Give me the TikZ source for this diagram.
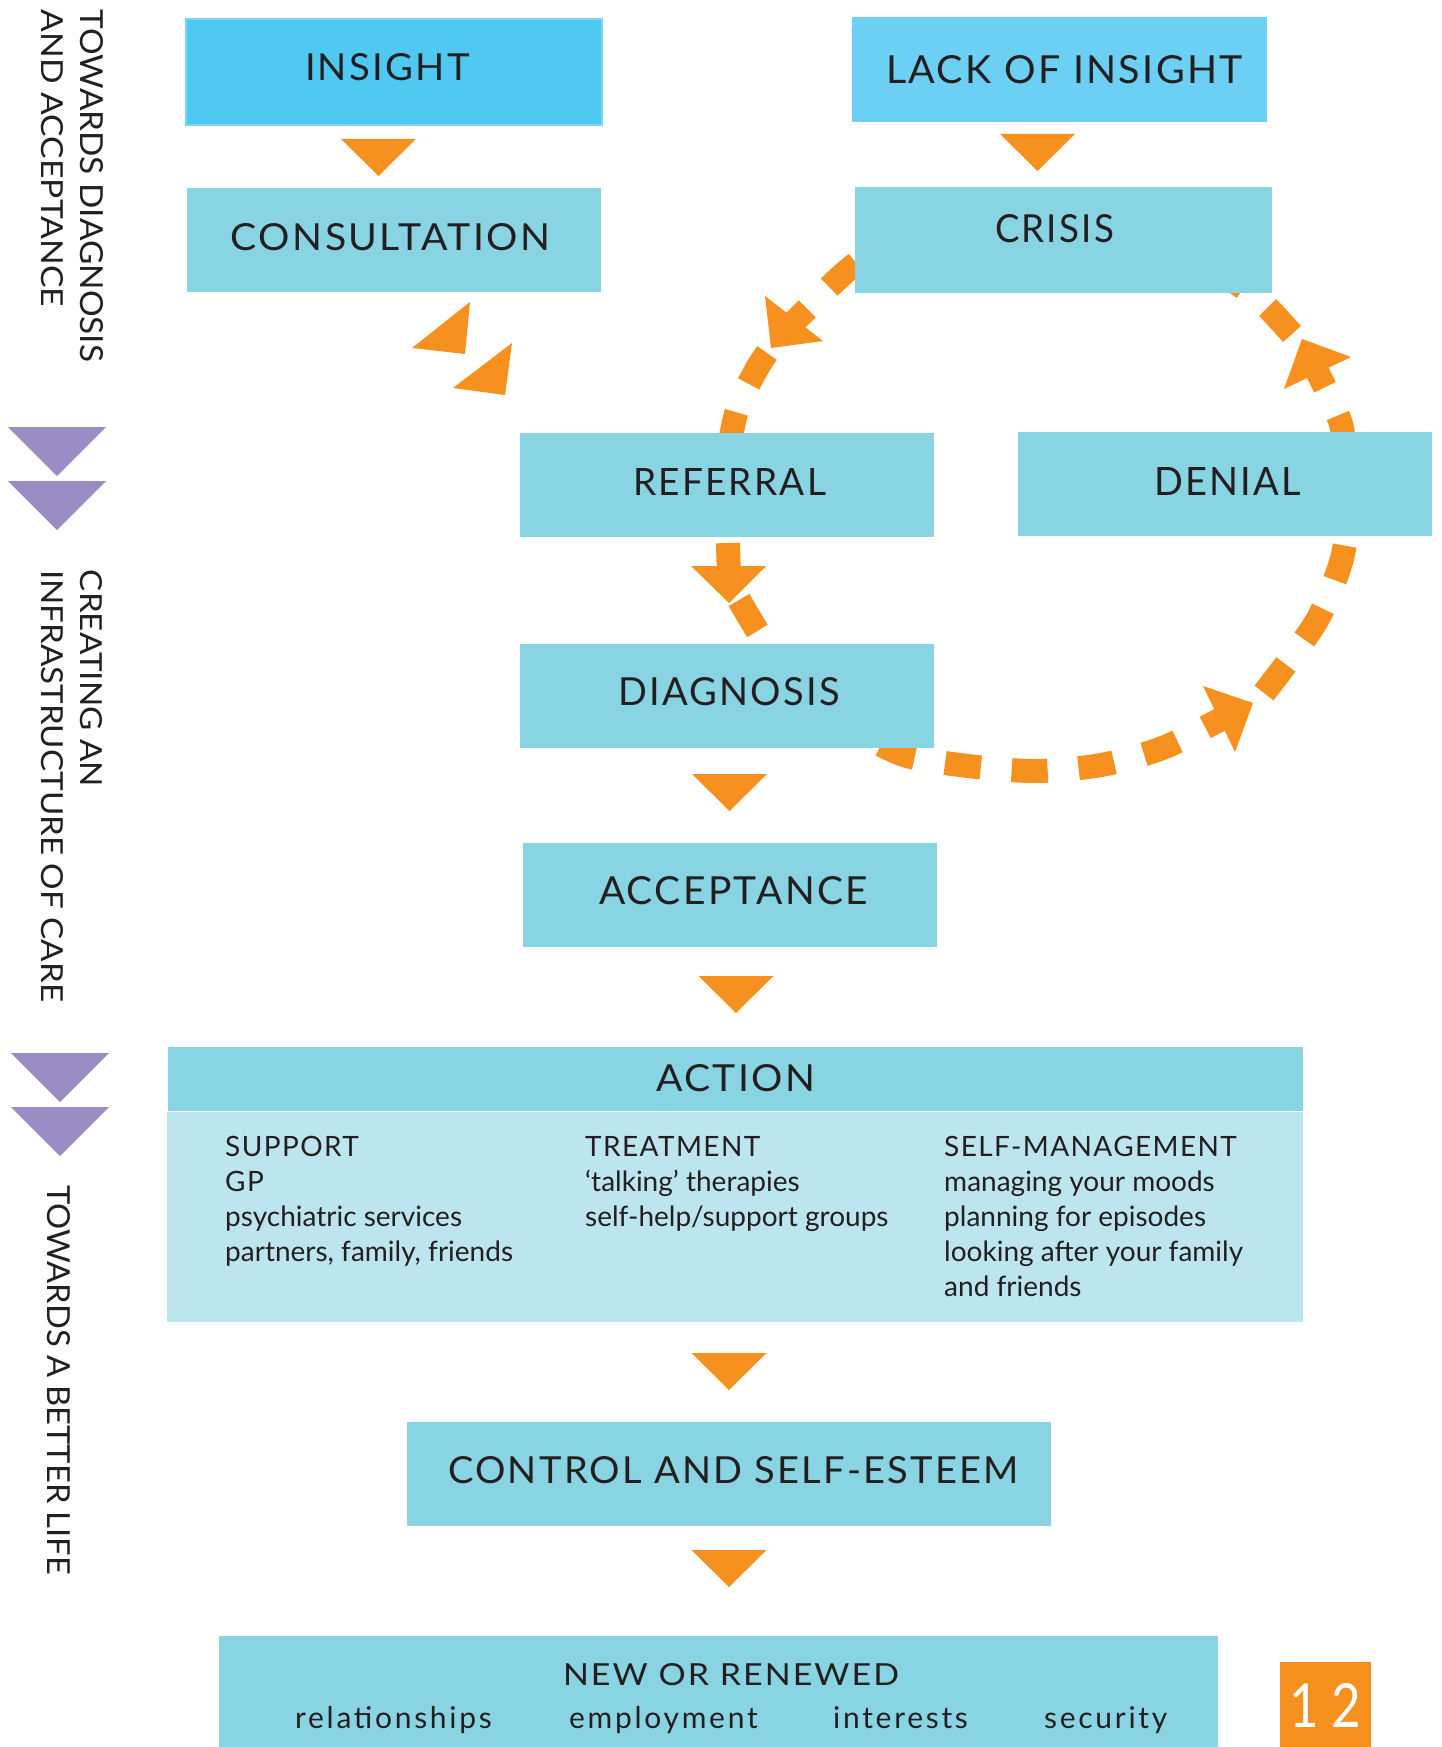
\documentclass[tikz,border=0pt]{standalone}
\usepackage{fontspec}
\usepackage{graphicx}
\setmainfont{Lato}
\newfontfamily\ttlfont[LetterSpace=6]{Lato}
\newfontfamily\capfont[LetterSpace=5]{Lato}
\newfontfamily\wordfont[LetterSpace=9]{Lato}
\usetikzlibrary{backgrounds,calc}
\definecolor{boxc}{HTML}{89D4E3}
\definecolor{insc}{HTML}{4FC9F1}
\definecolor{insedge}{HTML}{80D5EE}
\definecolor{lackc}{HTML}{6CCFF4}
\definecolor{bodybg}{HTML}{BDE5EF}
\definecolor{orng}{HTML}{F6901E}
\definecolor{purp}{HTML}{9B8DC4}
\definecolor{ink}{HTML}{231F20}
\newcommand{\ttlbox}[3]{\resizebox{#1pt}{#2pt}{\ttlfont\fontsize{38}{44}\selectfont #3}}
\newcommand{\sidebox}[3]{\resizebox{#1pt}{#2pt}{\fontsize{34}{40}\selectfont #3}}
\begin{document}
\begin{tikzpicture}[x=1pt,y=-1pt,
  box/.style={rectangle, fill=boxc, draw=none, inner sep=0pt},
  ttl/.style={inner sep=0pt, text=ink},
  bodytxt/.style={inner sep=0pt, text=ink, align=left, font=\fontsize{28}{35}\selectfont},
  wordtxt/.style={inner sep=0pt, text=ink, font=\wordfont\fontsize{30}{36}\selectfont},
  loopline/.style={draw=orng, line width=24pt, dash pattern=on 36pt off 31pt},
  downtri/.pic={\fill[orng] (-37.5,0) -- (37.5,0) -- (0,37) -- cycle;},
  purptri/.pic={\fill[purp] (-49,0) -- (49,0) -- (0,49) -- cycle;}]
\useasboundingbox (0,0) rectangle (1442,1747);

% boxes
\node[box, minimum width=416pt, minimum height=106pt, fill=insc, draw=insedge, line width=2pt] (insight) at (394,72) {};
\node[box, minimum width=415pt, minimum height=105pt, fill=lackc] (lack) at (1059.5,69.5) {};
\node[box, minimum width=414pt, minimum height=104pt] (consult) at (394,240) {};
\node[box, minimum width=417pt, minimum height=106pt] (crisis) at (1063.5,240) {};
\node[box, minimum width=414pt, minimum height=104pt] (referral) at (727,485) {};
\node[box, minimum width=414pt, minimum height=104pt] (denial) at (1225,484) {};
\node[box, minimum width=414pt, minimum height=104pt] (diagnosis) at (727,696) {};
\node[box, minimum width=414pt, minimum height=104pt] (accept) at (730,895) {};
\node[box, minimum width=1135pt, minimum height=64pt] (actionhead) at (735.5,1079) {};
\node[box, minimum width=1136pt, minimum height=210pt, fill=bodybg] (actionbody) at (735,1217) {};
\node[box, minimum width=644pt, minimum height=104pt] (control) at (729,1474) {};
\node[box, minimum width=999pt, minimum height=111pt] (renewed) at (718.5,1691.5) {};
\node[box, minimum width=91pt, minimum height=85pt, fill=orng] (page) at (1325.5,1704.5) {};

% titles
\node[ttl] (insightT) at (387.5,67.5) {\ttlbox{165}{27}{INSIGHT}};
\node[ttl] (lackT) at (1064.5,70) {\ttlbox{357}{28}{LACK OF INSIGHT}};
\node[ttl] (consultT) at (390.5,237.5) {\ttlbox{319}{27}{CONSULTATION}};
\node[ttl] (crisisT) at (1054.5,229) {\ttlbox{119}{28}{CRISIS}};
\node[ttl] (referralT) at (729.5,481.5) {\ttlbox{193}{27}{REFERRAL}};
\node[ttl] (denialT) at (1227.5,481) {\ttlbox{147}{28}{DENIAL}};
\node[ttl] (diagnosisT) at (729,692) {\ttlbox{222}{28}{DIAGNOSIS}};
\node[ttl] (acceptT) at (733.5,891) {\ttlbox{269}{28}{ACCEPTANCE}};
\node[ttl] (actionT) at (735.5,1078.5) {\ttlbox{159}{27}{ACTION}};
\node[ttl] (controlT) at (733.5,1470.5) {\ttlbox{571}{27}{CONTROL AND SELF-ESTEEM}};
\node[ttl] (renewedT) at (731,1675) {\ttlbox{336}{22}{NEW OR RENEWED}};

% action columns
\node[bodytxt, anchor=north west] (support) at (225,1136) {{\capfont SUPPORT}\\{\capfont GP}\\psychiatric services\\partners, family, friends};
\node[bodytxt, anchor=north west] (treatment) at (585,1136) {{\capfont TREATMENT}\\‘talking’ therapies\\self-help/support groups};
\node[bodytxt, anchor=north west] (selfman) at (944,1136) {{\capfont SELF-MANAGEMENT}\\managing your moods\\planning for episodes\\looking after your family\\and friends};

% bottom words
\node[wordtxt, anchor=base west] (w1) at (295,1728) {relationships};
\node[wordtxt, anchor=base west] (w2) at (569,1728) {employment};
\node[wordtxt, anchor=base west] (w3) at (833,1728) {interests};
\node[wordtxt, anchor=base west] (w4) at (1044,1728) {security};

% page number
\node[inner sep=0pt, text=white] (pageT) at (1325,1705) {\resizebox{72pt}{44pt}{\fontsize{40}{40}\selectfont 1\hspace{10pt}2}};

% side labels
\node[ttl, rotate=-90] (side1) at (91.5,186) {\sidebox{352}{23}{TOWARDS DIAGNOSIS}};
\node[ttl, rotate=-90] (side2) at (52.5,158.5) {\sidebox{297}{22}{AND ACCEPTANCE}};
\node[ttl, rotate=-90] (side3) at (91,678.5) {\sidebox{217}{22}{CREATING AN}};
\node[ttl, rotate=-90] (side4) at (52.5,786) {\sidebox{432}{22}{INFRASTRUCTURE OF CARE}};
\node[ttl, rotate=-90] (side5) at (58.5,1380) {\sidebox{390}{23}{TOWARDS A BETTER LIFE}};

% purple markers
\pic (p1) at (57,427) {purptri};
\pic (p2) at (57,481) {purptri};
\pic (p3) at (60,1053) {purptri};
\pic (p4) at (60,1107) {purptri};

% orange flow triangles
\pic (t1) at (378.5,139) {downtri};
\pic (t2) at (1037.5,134) {downtri};
\pic (t3) at (729.5,774) {downtri};
\pic (t4) at (736,976) {downtri};
\pic (t5) at (729,1353) {downtri};
\pic (t6) at (729,1550) {downtri};

% dashed loop (behind boxes): each connector is drawn outwards from its arrowhead
\begin{scope}[on background layer]
\fill[white] (0,0) rectangle (1442,1747);
\coordinate (a0) at ($(crisis.west)+(22,8)$);
\coordinate (a9) at ($(referral.north)+(-2,35)$);
\coordinate (b0) at ($(referral.center)+(0,25)$);
\coordinate (b9) at ($(diagnosis.north)+(48,16)$);
\coordinate (c0) at ($(diagnosis.south east)+(-84,-20)$);
\coordinate (c9) at ($(denial.south)+(125,-26)$);
\coordinate (d0) at ($(denial.north)+(120,28)$);
\coordinate (d9) at ($(crisis.south east)+(-62,-28)$);
% crisis -> referral
\draw[loopline] plot[smooth] coordinates {(781.7,334.3) (841,276) (a0)};
\draw[loopline] plot[smooth] coordinates {(767,353) (755,372) (737,410) (a9)};
% referral -> diagnosis
\draw[loopline] plot[smooth] coordinates {(729,579) (728,545) (b0)};
\draw[loopline] plot[smooth] coordinates {(739,600) (752,622) (b9)};
% diagnosis -> denial
\draw[loopline] plot[smooth] coordinates {(1237,710.5) (1165,747) (1101,765) (1035,771) (968,766) (904,755) (c0)};
\draw[loopline] plot[smooth] coordinates {(1264,693) (1316,622) (1341,562) (c9)};
% denial -> crisis
\draw[loopline] plot[smooth] coordinates {(1309,355) (1340,421) (d0)};
\draw[loopline] plot[smooth] coordinates {(1292,334) (1262,302) (1232,280) (d9)};
\end{scope}

% loop arrowheads
\fill[orng] (765,296) -- (771,348) -- (823,341) -- cycle;
\fill[orng] (691,566) -- (766,566) -- (729,603) -- cycle;
\fill[orng] (1203,686) -- (1253,703) -- (1235,752) -- cycle;
\fill[orng] (1284,389) -- (1302,339) -- (1351,357) -- cycle;

% heads towards consultation
\fill[orng] (470,302) -- (412,348) -- (465,354) -- cycle;
\fill[orng] (512,343) -- (453,388) -- (505,395) -- cycle;
\end{tikzpicture}
\end{document}
